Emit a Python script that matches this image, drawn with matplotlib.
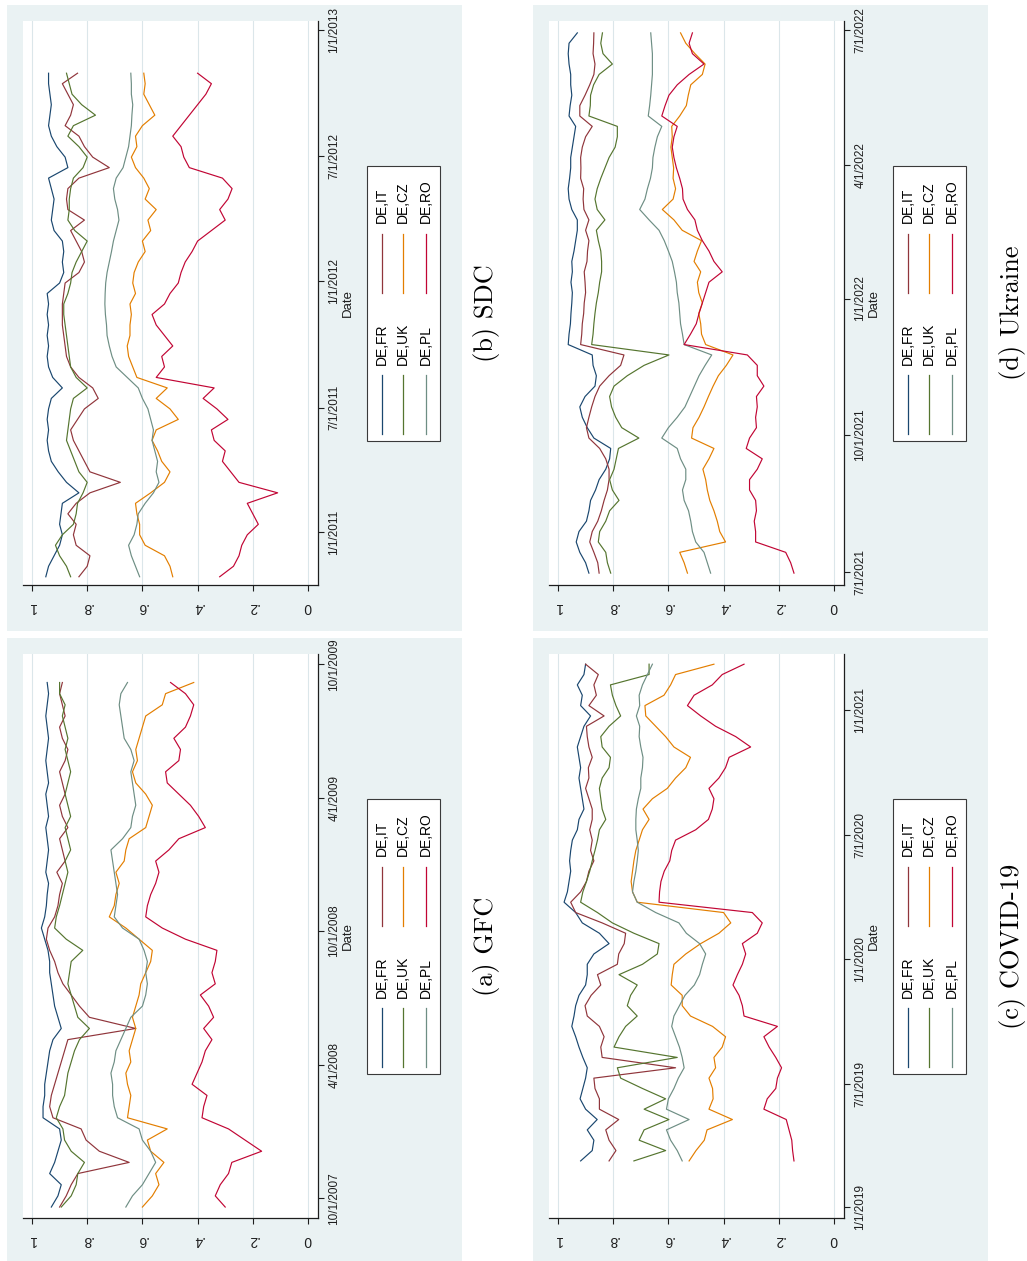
import matplotlib
matplotlib.use("Agg")
import matplotlib.pyplot as plt
import matplotlib.dates as mdates
from matplotlib.patches import Rectangle
from matplotlib.lines import Line2D
import pandas as pd

plt.rcParams["font.family"] = ["Liberation Sans", "DejaVu Sans"]

W, H = 1027, 1261

pairs = ["DE,FR", "DE,IT", "DE,UK", "DE,CZ", "DE,PL", "DE,RO"]
colors = ["#1a476f", "#90353b", "#55752f", "#e37e00", "#6e8e84", "#c10534"]

value_ticks = [0, 0.2, 0.4, 0.6, 0.8, 1]
value_labels = ["0", ".2", ".4", ".6", ".8", "1"]

# --- (a) GFC, semi-monthly ---
gfc_dates = pd.date_range("2007-09-19", "2009-09-06", periods=48)
gfc_fr = [.93, .906, .894, .936, .918, .906, .894, .90, .96, .96, .954, .954, .948, .942, .936, .924,
          .894, .906, .918, .924, .93, .936, .936, .942, .954, .966, .954, .948, .945, .94, .95, .945,
          .94, .945, .95, .94, .945, .95, .94, .945, .95, .945, .94, .945, .95, .945, .94, .945]
gfc_it = [.90, .876, .858, .834, .648, .756, .804, .822, .924, .936, .93, .918, .906, .894, .882, .87,
          .624, .792, .828, .858, .888, .906, .918, .936, .948, .942, .918, .906, .90, .89, .91, .88,
          .89, .90, .87, .89, .90, .88, .89, .90, .88, .87, .89, .90, .88, .89, .90, .89]
gfc_uk = [.894, .858, .84, .834, .81, .858, .882, .888, .912, .90, .882, .876, .87, .858, .846, .828,
          .792, .834, .846, .858, .87, .864, .858, .816, .876, .918, .912, .90, .89, .88, .87, .88,
          .86, .87, .88, .86, .87, .88, .87, .86, .87, .88, .87, .88, .89, .88, .90, .90]
gfc_cz = [.60, .564, .54, .552, .522, .57, .582, .51, .654, .648, .642, .654, .66, .642, .648, .636,
          .624, .636, .624, .612, .606, .588, .57, .564, .612, .66, .72, .702, .696, .684, .696, .666,
          .66, .648, .588, .576, .564, .588, .624, .636, .618, .624, .612, .60, .588, .528, .516, .414]
gfc_pl = [.66, .636, .60, .576, .552, .57, .60, .612, .69, .702, .708, .708, .714, .702, .696, .678,
          .66, .642, .60, .588, .582, .588, .582, .594, .612, .672, .702, .696, .69, .696, .702, .708,
          .714, .672, .642, .636, .624, .63, .636, .642, .63, .642, .666, .672, .678, .684, .678, .654]
gfc_ro = [.30, .336, .318, .288, .276, .168, .228, .288, .384, .378, .366, .42, .402, .384, .372, .348,
          .378, .342, .36, .39, .336, .348, .336, .33, .444, .528, .588, .582, .57, .552, .54, .552,
          .504, .468, .372, .396, .426, .468, .51, .516, .468, .462, .486, .444, .426, .414, .444, .498]
gfc_ticks = ["2007-10-01", "2008-04-01", "2008-10-01", "2009-04-01", "2009-10-01"]
gfc_span = ("2007-09-04", "2009-10-15")

# --- (b) SDC, semi-monthly ---
sdc_dates = pd.date_range("2010-10-28", "2012-10-30", periods=49)
sdc_fr = [.95, .94, .92, .90, .89, .90, .895, .89, .83, .875, .905, .93, .94, .945, .94, .945, .94,
          .93, .89, .925, .94, .945, .94, .945, .94, .945, .94, .945, .90, .885, .89, .885, .89, .92,
          .93, .925, .92, .93, .94, .87, .88, .91, .93, .94, .935, .93, .935, .94, .94]
sdc_it = [.83, .80, .79, .84, .85, .84, .87, .84, .79, .68, .79, .81, .83, .85, .86, .835, .81, .76,
          .78, .83, .86, .875, .88, .885, .89, .89, .89, .885, .88, .83, .81, .82, .84, .86, .81, .87,
          .875, .87, .83, .72, .78, .81, .83, .88, .86, .85, .87, .89, .835]
sdc_uk = [.86, .875, .90, .915, .89, .85, .84, .835, .815, .80, .83, .845, .86, .875, .87, .865, .86,
          .85, .80, .84, .86, .865, .87, .875, .88, .885, .885, .87, .86, .855, .84, .82, .80, .845,
          .87, .865, .865, .86, .85, .815, .80, .83, .87, .85, .77, .82, .855, .865, .875]
sdc_cz = [.49, .50, .52, .59, .61, .61, .62, .625, .57, .52, .50, .53, .545, .565, .55, .47, .50, .55,
          .51, .62, .635, .65, .655, .645, .645, .64, .645, .625, .635, .63, .615, .59, .60, .57, .58,
          .55, .59, .575, .595, .625, .64, .62, .625, .60, .555, .575, .595, .59, .595]
sdc_pl = [.61, .625, .64, .65, .63, .62, .615, .59, .56, .54, .55, .545, .555, .565, .56, .57, .58,
          .60, .615, .655, .695, .71, .72, .728, .73, .734, .736, .735, .733, .728, .72, .712, .705,
          .695, .685, .69, .70, .705, .695, .67, .66, .65, .645, .64, .638, .635, .64, .64, .642]
sdc_ro = [.32, .27, .25, .24, .22, .18, .20, .22, .11, .25, .28, .31, .30, .34, .35, .29, .33, .38,
          .34, .55, .52, .53, .49, .52, .55, .565, .52, .50, .47, .46, .445, .42, .40, .35, .30, .32,
          .29, .275, .31, .43, .45, .46, .49, .46, .43, .40, .37, .35, .40]
sdc_ticks = ["2011-01-01", "2011-07-01", "2012-01-01", "2012-07-01", "2013-01-01"]
sdc_span = ("2010-10-16", "2013-01-14")

# --- (c) COVID-19, semi-monthly ---
cov_dates = pd.date_range("2019-03-10", "2021-03-10", periods=49)
cov_fr = [.918, .876, .87, .894, .858, .90, .92, .91, .90, .894, .91, .924, .936, .95, .942, .936,
          .924, .90, .894, .894, .87, .815, .85, .912, .936, .978, .966, .96, .954, .958, .954, .948,
          .93, .924, .906, .912, .918, .924, .918, .924, .93, .918, .906, .882, .918, .912, .93, .906, .90]
cov_it = [.815, .79, .815, .827, .78, .85, .85, .866, .87, .574, .84, .845, .833, .85, .894, .902,
          .88, .845, .857, .785, .78, .76, .755, .84, .936, .954, .918, .897, .888, .87, .882, .876,
          .885, .876, .876, .888, .90, .888, .89, .876, .888, .894, .897, .833, .888, .861, .87, .854, .90]
cov_uk = [.725, .61, .706, .688, .598, .688, .61, .694, .773, .785, .568, .797, .779, .755, .713, .749,
          .737, .713, .779, .694, .64, .634, .725, .803, .857, .918, .91, .897, .885, .876, .866, .857,
          .85, .827, .84, .845, .85, .84, .815, .81, .84, .845, .815, .773, .79, .803, .81, .67, .67]
cov_cz = [.525, .50, .47, .46, .368, .453, .438, .44, .453, .429, .435, .405, .393, .44, .52, .55,
          .55, .59, .586, .58, .537, .483, .417, .374, .40, .713, .73, .735, .73, .725, .718, .706,
          .694, .67, .692, .658, .604, .574, .537, .52, .58, .61, .646, .682, .685, .616, .592, .574, .435]
cov_pl = [.55, .568, .592, .607, .525, .607, .60, .58, .564, .543, .55, .56, .574, .588, .58, .56,
          .54, .506, .487, .477, .465, .487, .535, .562, .646, .713, .73, .725, .718, .713, .709, .713,
          .718, .718, .716, .709, .70, .70, .694, .692, .70, .706, .704, .716, .704, .706, .694, .676, .658]
cov_ro = [.145, .15, .153, .163, .173, .254, .242, .211, .205, .19, .211, .235, .254, .205, .326, .332,
          .344, .366, .35, .332, .32, .332, .278, .26, .296, .634, .632, .627, .615, .595, .588, .574,
          .501, .455, .441, .435, .453, .417, .393, .38, .302, .356, .429, .483, .531, .507, .441, .405, .326]
cov_ticks = ["2019-01-01", "2019-07-01", "2020-01-01", "2020-07-01", "2021-01-01"]
cov_span = ("2018-12-16", "2021-03-25")

# --- (d) Ukraine, weekly ---
ukr_dates = pd.date_range("2021-06-30", periods=53, freq="7D")
ukr_fr = [.888, .90, .921, .934, .924, .897, .888, .882, .864, .851, .827, .813, .809, .87, .894, .912,
          .921, .902, .866, .861, .873, .876, .963, .96, .955, .953, .95, .948, .953, .948, .95, .942,
          .936, .93, .93, .95, .96, .963, .958, .954, .954, .948, .942, .936, .96, .956, .95, .954,
          .954, .96, .963, .96, .93]
ukr_it = [.851, .856, .87, .885, .876, .856, .843, .833, .821, .815, .815, .827, .849, .888, .897, .888,
          .878, .866, .849, .815, .773, .761, .918, .914, .912, .907, .905, .90, .902, .905, .895, .893,
          .888, .90, .888, .906, .909, .907, .918, .917, .918, .912, .90, .876, .921, .921, .902, .885,
          .87, .866, .873, .871, .87]
ukr_uk = [.809, .821, .827, .854, .849, .827, .813, .779, .803, .813, .797, .789, .781, .707, .769, .791,
          .806, .813, .797, .749, .688, .598, .878, .873, .87, .866, .861, .854, .849, .842, .842, .845,
          .854, .861, .83, .858, .866, .858, .845, .83, .815, .793, .785, .785, .888, .883, .882, .871,
          .851, .803, .837, .845, .839]
ukr_cz = [.531, .543, .559, .393, .414, .423, .435, .45, .459, .465, .475, .453, .435, .516, .511, .489,
          .471, .455, .438, .419, .39, .366, .465, .48, .483, .49, .477, .49, .495, .483, .507, .495,
          .48, .55, .58, .622, .583, .574, .583, .581, .586, .591, .586, .588, .559, .535, .528, .519,
          .477, .467, .504, .537, .556]
ukr_pl = [.447, .459, .471, .501, .513, .519, .527, .543, .549, .537, .537, .556, .568, .624, .60, .568,
          .54, .523, .506, .489, .467, .443, .543, .549, .556, .559, .562, .568, .571, .578, .586, .60,
          .615, .634, .67, .704, .685, .676, .665, .658, .656, .649, .64, .624, .673, .668, .664, .661,
          .658, .658, .658, .661, .664]
ukr_ro = [.145, .157, .175, .284, .284, .289, .281, .284, .306, .306, .278, .26, .318, .306, .281, .284,
          .278, .281, .254, .278, .278, .314, .543, .52, .499, .489, .477, .465, .453, .405, .435, .453,
          .477, .495, .504, .531, .547, .549, .559, .571, .58, .586, .58, .568, .624, .612, .598, .568,
          .525, .471, .513, .525, .513]
ukr_ticks = ["2021-07-01", "2021-10-01", "2022-01-01", "2022-04-01", "2022-07-01"]
ukr_span = ("2021-06-22", "2022-07-07")

panels = [
    ("(a) GFC", gfc_dates, [gfc_fr, gfc_it, gfc_uk, gfc_cz, gfc_pl, gfc_ro], gfc_ticks, gfc_span, 23, 654),
    ("(b) SDC", sdc_dates, [sdc_fr, sdc_it, sdc_uk, sdc_cz, sdc_pl, sdc_ro], sdc_ticks, sdc_span, 23, 21),
    ("(c) COVID-19", cov_dates, [cov_fr, cov_it, cov_uk, cov_cz, cov_pl, cov_ro], cov_ticks, cov_span, 549, 654),
    ("(d) Ukraine", ukr_dates, [ukr_fr, ukr_it, ukr_uk, ukr_cz, ukr_pl, ukr_ro], ukr_ticks, ukr_span, 549, 21),
]

BG = "#eaf2f3"
GRID = "#dbe6ea"
AXC = "#1e1e1e"
PW, PH = 295, 564


def fpt(x, y):
    # pixel position (from top-left) -> figure fraction
    return x / W, 1 - y / H


fig = plt.figure(figsize=(W / 100, H / 100), dpi=100)
fig.patch.set_facecolor("white")

for caption, dates, series, ticks, span, left, top in panels:
    # graph region background
    fig.add_artist(Rectangle(fpt(left - 16, top + 610), 455 / W, 626 / H,
                             transform=fig.transFigure, facecolor=BG,
                             edgecolor="none", zorder=-10))

    ax = fig.add_axes([left / W, 1 - (top + PH) / H, PW / W, PH / H])
    ax.set_facecolor("white")
    for name, vals, c in zip(pairs, series, colors):
        # value axis runs horizontally, time runs upward
        ax.plot(vals, dates, color=c, lw=0.85)

    ax.set_xlim(1 + 9 / 276, -10 / 276)
    ax.set_ylim(mdates.date2num(pd.Timestamp(span[0])), mdates.date2num(pd.Timestamp(span[1])))

    ax.set_xticks(value_ticks)
    ax.set_xticklabels(value_labels, rotation=180, fontsize=10)
    ax.xaxis.grid(True, color=GRID, lw=0.8)
    ax.set_axisbelow(True)

    tick_dates = pd.to_datetime(ticks)
    ax.yaxis.tick_right()
    ax.set_yticks(mdates.date2num(tick_dates))
    ax.set_yticklabels([f"{d.month}/{d.day}/{d.year}" for d in tick_dates],
                       rotation=90, va="center", fontsize=8.5)

    ax.tick_params(axis="x", length=4, width=0.8, pad=7, colors=AXC)
    ax.tick_params(axis="y", length=4, width=0.8, pad=3.5, colors=AXC)
    for side in ("top", "left"):
        ax.spines[side].set_visible(False)
    for side in ("bottom", "right"):
        ax.spines[side].set_color(AXC)
        ax.spines[side].set_linewidth(0.9)

    # axis title for the date axis
    fig.text(*fpt(left + 325, top + PH / 2), "Date", rotation=90,
             ha="center", va="center", fontsize=9.5, color=AXC)

    # legend box, three rows of two keys
    lx, ly = left + 344, top + 145 + 275
    fig.add_artist(Rectangle(fpt(lx, ly), 73 / W, 275 / H, transform=fig.transFigure,
                             facecolor="white", edgecolor="#3a3a3a", lw=0.8, zorder=3))
    for i, (name, c) in enumerate(zip(pairs, colors)):
        cx = lx + [14.5, 35.5, 58.5][i // 2]
        a, b, t = [(7, 66, 76), (148, 207, 218)][i % 2]
        x0, y0 = fpt(cx, ly - a)
        x1, y1 = fpt(cx, ly - b)
        fig.add_artist(Line2D([x0, x1], [y0, y1], transform=fig.transFigure,
                              color=c, lw=0.9, zorder=4))
        fig.text(*fpt(cx, ly - t), name, rotation=90, rotation_mode="anchor",
                 ha="left", va="center", fontsize=10, color="black", zorder=5)

    # subfigure caption
    fig.text(*fpt(left + 463, top + 292), caption, rotation=90, ha="center",
             va="center", fontsize=19, family=["cmr10", "DejaVu Serif"])

fig.savefig("out.png", dpi=100)
